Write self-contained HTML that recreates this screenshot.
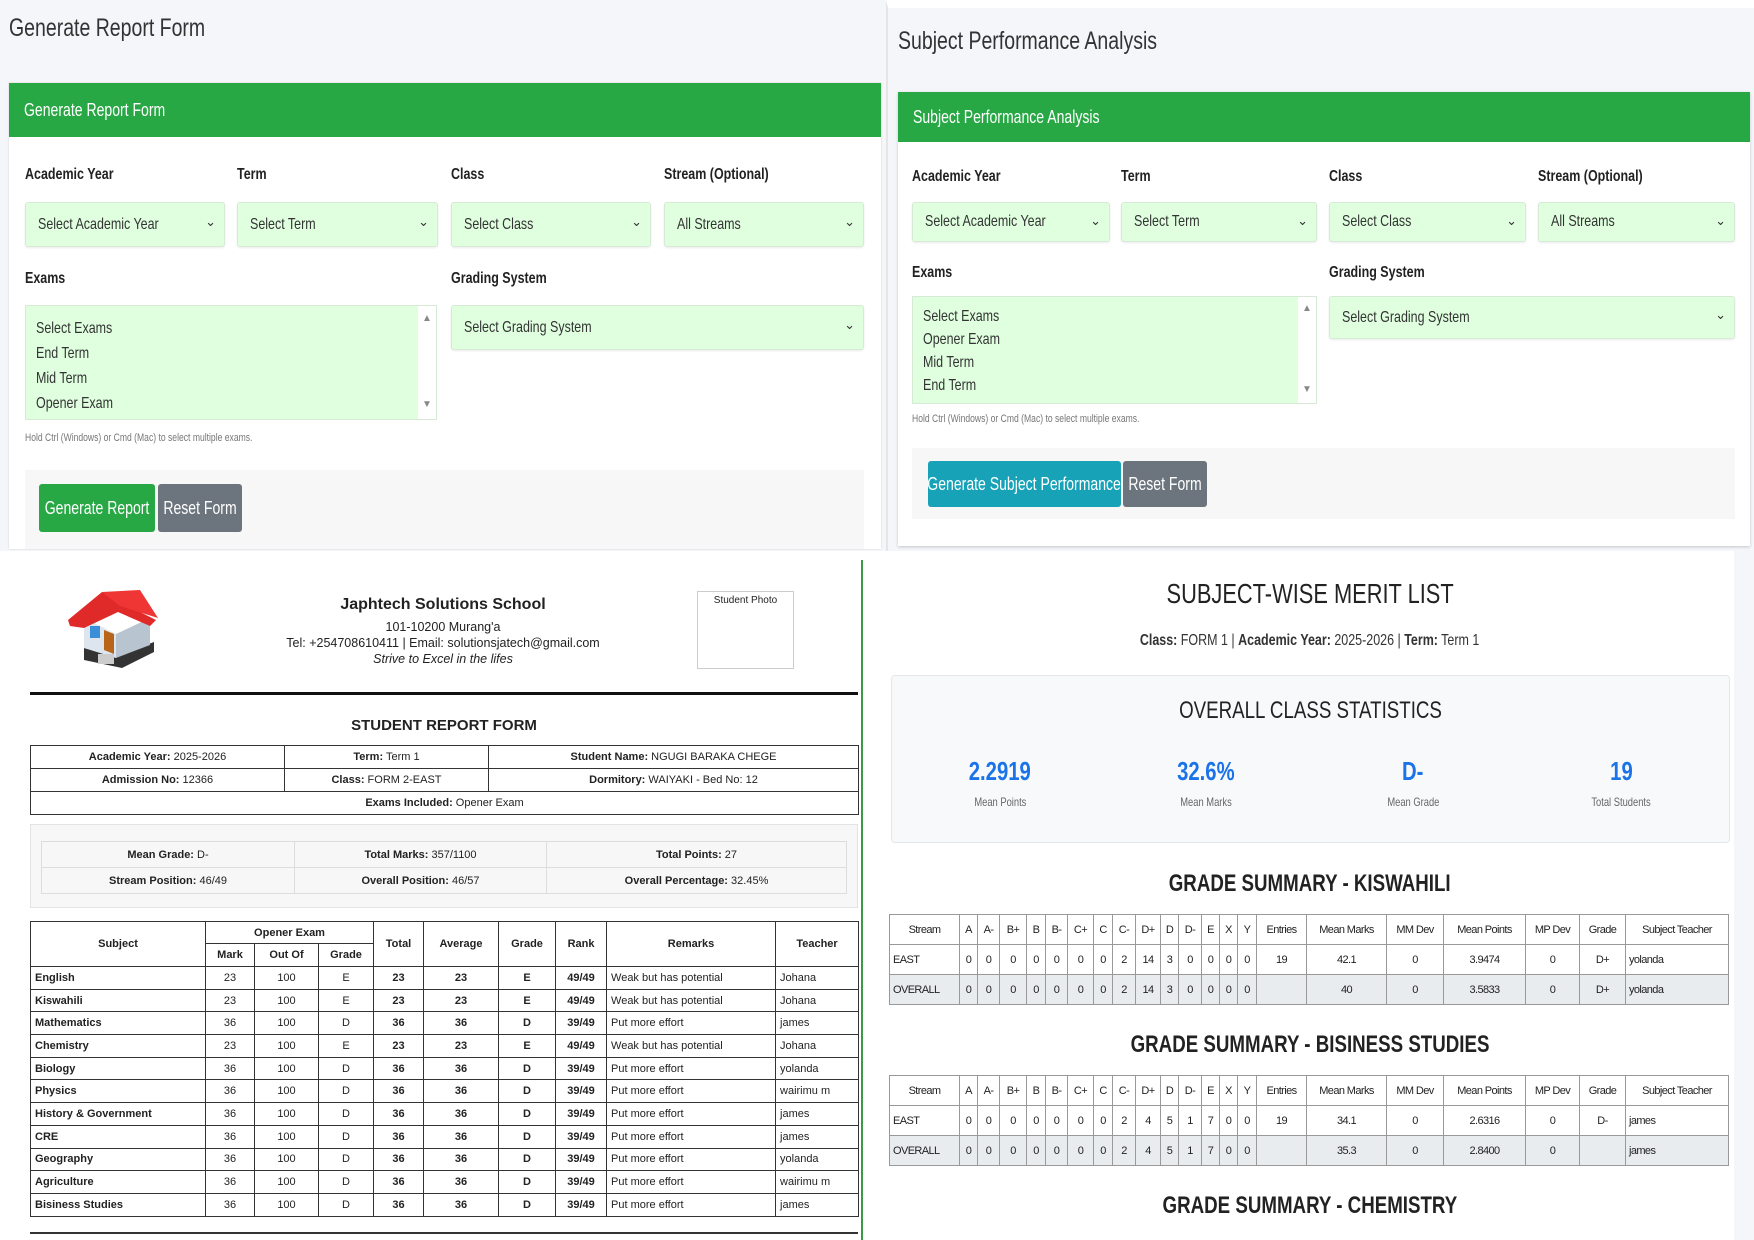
<!DOCTYPE html>
<html><head><meta charset="utf-8">
<style>
*{box-sizing:border-box;margin:0;padding:0}
body{width:1754px;height:1240px;position:relative;overflow:hidden;background:#fff;font-family:"Liberation Sans",Arial,sans-serif;color:#222}
.a{position:absolute}
.c{display:inline-block;transform:scaleX(.78);transform-origin:left center;white-space:nowrap}
.cc{display:inline-block;transform:scaleX(.78);transform-origin:center center;white-space:nowrap}
.lbl{font-weight:bold;font-size:16px;color:#222}
.sel{background:#dfffdf;border:1px solid #d6ead6;border-radius:3px;font-size:16px;color:#333;padding-left:12px;display:flex;align-items:center;box-shadow:0 1px 2px rgba(0,0,0,.08)}
.sel:after{content:"⌄";position:absolute;right:8px;top:25%;font-size:13px;color:#333}
.ms{background:#dfffdf;border:1px solid #d6ead6;font-size:16px;color:#333;padding:10px 10px;line-height:25px}
.sb{position:absolute;right:0;top:0;bottom:0;width:18px;background:#fff;font-size:10px;color:#888;text-align:center}
.btn{color:#fff;font-size:18px;border-radius:3px;display:flex;justify-content:center;align-items:center;white-space:nowrap}
.ctr{display:flex;justify-content:center}
table{border-collapse:collapse;position:absolute;table-layout:fixed}
td,th{overflow:hidden;white-space:nowrap}
.rt td,.rt th{border:1.5px solid #333;font-size:11px;text-align:center;padding:0}
.gt td,.gt th{border:1px solid #999;font-size:11px;text-align:center;padding:0;letter-spacing:-.6px}
.gt th{font-weight:normal}
.gt tr.ov td{background:#e9ecef}
</style></head><body>

<!-- TOP LEFT -->
<div class="a" style="left:0;top:0;width:886px;height:551px;background:#f4f6f9"></div>
<div class="a" style="left:9px;top:14px;font-size:25px;color:#333"><span class="c">Generate Report Form</span></div>
<div class="a" style="left:9px;top:83px;width:872px;height:466px;background:#fff;box-shadow:0 0 2px rgba(0,0,0,.15)"></div>
<div class="a" style="left:9px;top:83px;width:872px;height:54px;background:#28a745;color:#fff;font-size:18px;padding:17px 0 0 15px"><span class="c">Generate Report Form</span></div>
<div class="a lbl" style="left:25px;top:166px"><span class="c">Academic Year</span></div>
<div class="a lbl" style="left:237px;top:166px"><span class="c">Term</span></div>
<div class="a lbl" style="left:451px;top:166px"><span class="c">Class</span></div>
<div class="a lbl" style="left:664px;top:166px"><span class="c">Stream (Optional)</span></div>
<div class="a sel" style="left:25px;top:202px;width:200px;height:45px"><span class="c">Select Academic Year</span></div>
<div class="a sel" style="left:237px;top:202px;width:201px;height:45px"><span class="c">Select Term</span></div>
<div class="a sel" style="left:451px;top:202px;width:200px;height:45px"><span class="c">Select Class</span></div>
<div class="a sel" style="left:664px;top:202px;width:200px;height:45px"><span class="c">All Streams</span></div>
<div class="a lbl" style="left:25px;top:270px"><span class="c">Exams</span></div>
<div class="a lbl" style="left:451px;top:270px"><span class="c">Grading System</span></div>
<div class="a ms" style="left:25px;top:305px;width:412px;height:115px"><span class="c">Select Exams</span><br><span class="c">End Term</span><br><span class="c">Mid Term</span><br><span class="c">Opener Exam</span><div class="sb">▲<div style="position:absolute;bottom:2px;width:100%">▼</div></div></div>
<div class="a sel" style="left:451px;top:305px;width:413px;height:45px"><span class="c">Select Grading System</span></div>
<div class="a" style="left:25px;top:432px;font-size:11px;color:#777"><span class="c">Hold Ctrl (Windows) or Cmd (Mac) to select multiple exams.</span></div>
<div class="a" style="left:25px;top:470px;width:839px;height:79px;background:#f7f7f7"></div>
<div class="a btn" style="left:39px;top:484px;width:116px;height:48px;background:#28a745"><span class="cc">Generate Report</span></div>
<div class="a btn" style="left:158px;top:484px;width:84px;height:48px;background:#6c757d"><span class="cc">Reset Form</span></div>

<!-- TOP RIGHT -->
<div class="a" style="left:886px;top:0;width:868px;height:551px;background:#f4f6f9;border-top:8px solid #fff;border-left:2px solid #e5e5e5"></div>
<div class="a" style="left:898px;top:27px;font-size:25px;color:#333"><span class="c">Subject Performance Analysis</span></div>
<div class="a" style="left:898px;top:92px;width:852px;height:454px;background:#fff;box-shadow:0 1px 3px rgba(0,0,0,.2)"></div>
<div class="a" style="left:898px;top:92px;width:852px;height:50px;background:#28a745;color:#fff;font-size:18px;padding:15px 0 0 15px"><span class="c">Subject Performance Analysis</span></div>
<div class="a lbl" style="left:912px;top:168px"><span class="c">Academic Year</span></div>
<div class="a lbl" style="left:1121px;top:168px"><span class="c">Term</span></div>
<div class="a lbl" style="left:1329px;top:168px"><span class="c">Class</span></div>
<div class="a lbl" style="left:1538px;top:168px"><span class="c">Stream (Optional)</span></div>
<div class="a sel" style="left:912px;top:202px;width:198px;height:40px"><span class="c">Select Academic Year</span></div>
<div class="a sel" style="left:1121px;top:202px;width:196px;height:40px"><span class="c">Select Term</span></div>
<div class="a sel" style="left:1329px;top:202px;width:197px;height:40px"><span class="c">Select Class</span></div>
<div class="a sel" style="left:1538px;top:202px;width:197px;height:40px"><span class="c">All Streams</span></div>
<div class="a lbl" style="left:912px;top:264px"><span class="c">Exams</span></div>
<div class="a lbl" style="left:1329px;top:264px"><span class="c">Grading System</span></div>
<div class="a ms" style="left:912px;top:296px;width:405px;height:108px;padding-top:8px;line-height:23px"><span class="c">Select Exams</span><br><span class="c">Opener Exam</span><br><span class="c">Mid Term</span><br><span class="c">End Term</span><div class="sb">▲<div style="position:absolute;bottom:2px;width:100%">▼</div></div></div>
<div class="a sel" style="left:1329px;top:296px;width:406px;height:43px"><span class="c">Select Grading System</span></div>
<div class="a" style="left:912px;top:413px;font-size:11px;color:#777"><span class="c">Hold Ctrl (Windows) or Cmd (Mac) to select multiple exams.</span></div>
<div class="a" style="left:912px;top:448px;width:823px;height:71px;background:#f7f7f7"></div>
<div class="a btn" style="left:928px;top:461px;width:193px;height:46px;background:#17a2b8"><span class="cc">Generate Subject Performance</span></div>
<div class="a btn" style="left:1123px;top:461px;width:84px;height:46px;background:#6c757d"><span class="cc">Reset Form</span></div>

<!-- BOTTOM LEFT -->
<div class="a" style="left:861px;top:560px;width:2px;height:680px;background:#3a9a4a"></div>
<svg class="a" style="left:66px;top:590px" width="92" height="78" viewBox="0 0 92 78">
<polygon points="18,70 56,78 88,62 88,52 50,66 18,58" fill="#333"/>
<polygon points="18,28 50,44 50,68 18,58" fill="#dde6ef"/>
<polygon points="50,44 84,28 84,55 50,68" fill="#b8c4cf"/>
<rect x="24" y="36" width="10" height="12" fill="#3a8fd8"/>
<polygon points="38,40 48,44 48,64 38,60" fill="#b8651a"/>
<polygon points="2,30 36,2 54,12 90,30 84,36 52,22 18,38 4,36" fill="#e02a2a"/>
<polygon points="36,2 74,0 92,28 54,16" fill="#f03535"/>
<rect x="32" y="64" width="16" height="10" fill="#ccc"/>
</svg>
<div class="a" style="left:243px;top:596px;width:400px;text-align:center;font-weight:bold;font-size:16px">Japhtech Solutions School</div>
<div class="a" style="left:243px;top:620px;width:400px;text-align:center;font-size:12.5px">101-10200 Murang'a</div>
<div class="a" style="left:213px;top:636px;width:460px;text-align:center;font-size:12.5px">Tel: +254708610411 | Email: solutionsjatech@gmail.com</div>
<div class="a" style="left:243px;top:652px;width:400px;text-align:center;font-size:12.5px;font-style:italic">Strive to Excel in the lifes</div>
<div class="a" style="left:697px;top:591px;width:97px;height:78px;border:1.5px solid #ccc;font-size:10px;text-align:center;padding-top:3px">Student Photo</div>
<div class="a" style="left:30px;top:692px;width:828px;height:3px;background:#111"></div>
<div class="a" style="left:30px;top:717px;width:828px;text-align:center;font-weight:bold;font-size:15px">STUDENT REPORT FORM</div>
<table class="rt" style="left:30px;top:745px;width:828px">
<colgroup><col style="width:254px"><col style="width:204px"><col style="width:370px"></colgroup>
<tr style="height:23px"><td><b>Academic Year:</b> 2025-2026</td><td><b>Term:</b> Term 1</td><td><b>Student Name:</b> NGUGI BARAKA CHEGE</td></tr>
<tr style="height:23px"><td><b>Admission No:</b> 12366</td><td><b>Class:</b> FORM 2-EAST</td><td><b>Dormitory:</b> WAIYAKI - Bed No: 12</td></tr>
<tr style="height:23px"><td colspan="3"><b>Exams Included:</b> Opener Exam</td></tr>
</table>
<div class="a" style="left:30px;top:824px;width:828px;height:84px;background:#f7f7f7;border:1px solid #e3e3e3"></div>
<table class="rt" style="left:41px;top:841px;width:805px">
<colgroup><col style="width:253px"><col style="width:252px"><col style="width:300px"></colgroup>
<tr style="height:26px"><td style="border:1px solid #ddd"><b>Mean Grade:</b> D-</td><td style="border:1px solid #ddd"><b>Total Marks:</b> 357/1100</td><td style="border:1px solid #ddd"><b>Total Points:</b> 27</td></tr>
<tr style="height:26px"><td style="border:1px solid #ddd"><b>Stream Position:</b> 46/49</td><td style="border:1px solid #ddd"><b>Overall Position:</b> 46/57</td><td style="border:1px solid #ddd"><b>Overall Percentage:</b> 32.45%</td></tr>
</table>
<table class="rt" style="left:30px;top:921px;width:828px">
<colgroup><col style="width:175px"><col style="width:49px"><col style="width:64px"><col style="width:55px"><col style="width:50px"><col style="width:75px"><col style="width:57px"><col style="width:51px"><col style="width:169px"><col style="width:83px"></colgroup>
<tr style="height:22px"><th rowspan="2">Subject</th><th colspan="3">Opener Exam</th><th rowspan="2">Total</th><th rowspan="2">Average</th><th rowspan="2">Grade</th><th rowspan="2">Rank</th><th rowspan="2">Remarks</th><th rowspan="2">Teacher</th></tr>
<tr style="height:23px"><th>Mark</th><th>Out Of</th><th>Grade</th></tr>
<tr style="height:22.7px"><td style="text-align:left;padding-left:4px"><b>English</b></td><td>23</td><td>100</td><td>E</td><td><b>23</b></td><td><b>23</b></td><td><b>E</b></td><td><b>49/49</b></td><td style="text-align:left;padding-left:4px">Weak but has potential</td><td style="text-align:left;padding-left:4px">Johana</td></tr>
<tr style="height:22.7px"><td style="text-align:left;padding-left:4px"><b>Kiswahili</b></td><td>23</td><td>100</td><td>E</td><td><b>23</b></td><td><b>23</b></td><td><b>E</b></td><td><b>49/49</b></td><td style="text-align:left;padding-left:4px">Weak but has potential</td><td style="text-align:left;padding-left:4px">Johana</td></tr>
<tr style="height:22.7px"><td style="text-align:left;padding-left:4px"><b>Mathematics</b></td><td>36</td><td>100</td><td>D</td><td><b>36</b></td><td><b>36</b></td><td><b>D</b></td><td><b>39/49</b></td><td style="text-align:left;padding-left:4px">Put more effort</td><td style="text-align:left;padding-left:4px">james</td></tr>
<tr style="height:22.7px"><td style="text-align:left;padding-left:4px"><b>Chemistry</b></td><td>23</td><td>100</td><td>E</td><td><b>23</b></td><td><b>23</b></td><td><b>E</b></td><td><b>49/49</b></td><td style="text-align:left;padding-left:4px">Weak but has potential</td><td style="text-align:left;padding-left:4px">Johana</td></tr>
<tr style="height:22.7px"><td style="text-align:left;padding-left:4px"><b>Biology</b></td><td>36</td><td>100</td><td>D</td><td><b>36</b></td><td><b>36</b></td><td><b>D</b></td><td><b>39/49</b></td><td style="text-align:left;padding-left:4px">Put more effort</td><td style="text-align:left;padding-left:4px">yolanda</td></tr>
<tr style="height:22.7px"><td style="text-align:left;padding-left:4px"><b>Physics</b></td><td>36</td><td>100</td><td>D</td><td><b>36</b></td><td><b>36</b></td><td><b>D</b></td><td><b>39/49</b></td><td style="text-align:left;padding-left:4px">Put more effort</td><td style="text-align:left;padding-left:4px">wairimu m</td></tr>
<tr style="height:22.7px"><td style="text-align:left;padding-left:4px"><b>History &amp; Government</b></td><td>36</td><td>100</td><td>D</td><td><b>36</b></td><td><b>36</b></td><td><b>D</b></td><td><b>39/49</b></td><td style="text-align:left;padding-left:4px">Put more effort</td><td style="text-align:left;padding-left:4px">james</td></tr>
<tr style="height:22.7px"><td style="text-align:left;padding-left:4px"><b>CRE</b></td><td>36</td><td>100</td><td>D</td><td><b>36</b></td><td><b>36</b></td><td><b>D</b></td><td><b>39/49</b></td><td style="text-align:left;padding-left:4px">Put more effort</td><td style="text-align:left;padding-left:4px">james</td></tr>
<tr style="height:22.7px"><td style="text-align:left;padding-left:4px"><b>Geography</b></td><td>36</td><td>100</td><td>D</td><td><b>36</b></td><td><b>36</b></td><td><b>D</b></td><td><b>39/49</b></td><td style="text-align:left;padding-left:4px">Put more effort</td><td style="text-align:left;padding-left:4px">yolanda</td></tr>
<tr style="height:22.7px"><td style="text-align:left;padding-left:4px"><b>Agriculture</b></td><td>36</td><td>100</td><td>D</td><td><b>36</b></td><td><b>36</b></td><td><b>D</b></td><td><b>39/49</b></td><td style="text-align:left;padding-left:4px">Put more effort</td><td style="text-align:left;padding-left:4px">wairimu m</td></tr>
<tr style="height:22.7px"><td style="text-align:left;padding-left:4px"><b>Bisiness Studies</b></td><td>36</td><td>100</td><td>D</td><td><b>36</b></td><td><b>36</b></td><td><b>D</b></td><td><b>39/49</b></td><td style="text-align:left;padding-left:4px">Put more effort</td><td style="text-align:left;padding-left:4px">james</td></tr>
</table>
<div class="a" style="left:30px;top:1232px;width:828px;height:2px;background:#333"></div>

<!-- BOTTOM RIGHT -->
<div class="a" style="left:1734px;top:551px;width:20px;height:689px;background:#f4f6f9"></div>
<div class="a" style="left:880px;top:578px;width:860px;text-align:center;font-size:28px;color:#222"><span class="cc">SUBJECT-WISE MERIT LIST</span></div>
<div class="a" style="left:880px;top:632px;width:860px;text-align:center;font-size:16px;color:#333"><span class="cc"><b>Class:</b> FORM 1 | <b>Academic Year:</b> 2025-2026 | <b>Term:</b> Term 1</span></div>
<div class="a" style="left:891px;top:675px;width:839px;height:168px;background:#f8f9fa;border:1px solid #e3e6ea;border-radius:4px"></div>
<div class="a" style="left:891px;top:697px;width:839px;text-align:center;font-size:24px;color:#222"><span class="cc">OVERALL CLASS STATISTICS</span></div>
<div class="a" style="left:940px;top:756px;width:120px;text-align:center;font-size:26px;font-weight:bold;color:#1a73e8"><span class="cc">2.2919</span></div>
<div class="a" style="left:1146px;top:756px;width:120px;text-align:center;font-size:26px;font-weight:bold;color:#1a73e8"><span class="cc">32.6%</span></div>
<div class="a" style="left:1353px;top:756px;width:120px;text-align:center;font-size:26px;font-weight:bold;color:#1a73e8"><span class="cc">D-</span></div>
<div class="a" style="left:1561px;top:756px;width:120px;text-align:center;font-size:26px;font-weight:bold;color:#1a73e8"><span class="cc">19</span></div>
<div class="a" style="left:940px;top:795px;width:120px;text-align:center;font-size:12px;color:#666"><span class="cc">Mean Points</span></div>
<div class="a" style="left:1146px;top:795px;width:120px;text-align:center;font-size:12px;color:#666"><span class="cc">Mean Marks</span></div>
<div class="a" style="left:1353px;top:795px;width:120px;text-align:center;font-size:12px;color:#666"><span class="cc">Mean Grade</span></div>
<div class="a" style="left:1561px;top:795px;width:120px;text-align:center;font-size:12px;color:#666"><span class="cc">Total Students</span></div>

<div class="a" style="left:880px;top:870px;width:860px;text-align:center;font-size:24px;font-weight:bold;color:#222"><span class="cc">GRADE SUMMARY - KISWAHILI</span></div>
<table class="gt" style="left:889px;top:914px;width:839px">
<colgroup><col style="width:70px"><col style="width:18px"><col style="width:22px"><col style="width:27px"><col style="width:19px"><col style="width:22px"><col style="width:26px"><col style="width:19px"><col style="width:23px"><col style="width:25px"><col style="width:18px"><col style="width:23px"><col style="width:18px"><col style="width:18px"><col style="width:19px"><col style="width:50px"><col style="width:80px"><col style="width:57px"><col style="width:82px"><col style="width:54px"><col style="width:46px"><col style="width:103px"></colgroup>
<tr style="height:30px"><th>Stream</th><th>A</th><th>A-</th><th>B+</th><th>B</th><th>B-</th><th>C+</th><th>C</th><th>C-</th><th>D+</th><th>D</th><th>D-</th><th>E</th><th>X</th><th>Y</th><th>Entries</th><th>Mean Marks</th><th>MM Dev</th><th>Mean Points</th><th>MP Dev</th><th>Grade</th><th>Subject Teacher</th></tr>
<tr style="height:30px"><td style="text-align:left;padding-left:3px">EAST</td><td>0</td><td>0</td><td>0</td><td>0</td><td>0</td><td>0</td><td>0</td><td>2</td><td>14</td><td>3</td><td>0</td><td>0</td><td>0</td><td>0</td><td>19</td><td>42.1</td><td>0</td><td>3.9474</td><td>0</td><td>D+</td><td style="text-align:left;padding-left:3px">yolanda</td></tr>
<tr class="ov" style="height:30px"><td style="text-align:left;padding-left:3px">OVERALL</td><td>0</td><td>0</td><td>0</td><td>0</td><td>0</td><td>0</td><td>0</td><td>2</td><td>14</td><td>3</td><td>0</td><td>0</td><td>0</td><td>0</td><td></td><td>40</td><td>0</td><td>3.5833</td><td>0</td><td>D+</td><td style="text-align:left;padding-left:3px">yolanda</td></tr>
</table>
<div class="a" style="left:880px;top:1031px;width:860px;text-align:center;font-size:24px;font-weight:bold;color:#222"><span class="cc">GRADE SUMMARY - BISINESS STUDIES</span></div>
<table class="gt" style="left:889px;top:1075px;width:839px">
<colgroup><col style="width:70px"><col style="width:18px"><col style="width:22px"><col style="width:27px"><col style="width:19px"><col style="width:22px"><col style="width:26px"><col style="width:19px"><col style="width:23px"><col style="width:25px"><col style="width:18px"><col style="width:23px"><col style="width:18px"><col style="width:18px"><col style="width:19px"><col style="width:50px"><col style="width:80px"><col style="width:57px"><col style="width:82px"><col style="width:54px"><col style="width:46px"><col style="width:103px"></colgroup>
<tr style="height:30px"><th>Stream</th><th>A</th><th>A-</th><th>B+</th><th>B</th><th>B-</th><th>C+</th><th>C</th><th>C-</th><th>D+</th><th>D</th><th>D-</th><th>E</th><th>X</th><th>Y</th><th>Entries</th><th>Mean Marks</th><th>MM Dev</th><th>Mean Points</th><th>MP Dev</th><th>Grade</th><th>Subject Teacher</th></tr>
<tr style="height:30px"><td style="text-align:left;padding-left:3px">EAST</td><td>0</td><td>0</td><td>0</td><td>0</td><td>0</td><td>0</td><td>0</td><td>2</td><td>4</td><td>5</td><td>1</td><td>7</td><td>0</td><td>0</td><td>19</td><td>34.1</td><td>0</td><td>2.6316</td><td>0</td><td>D-</td><td style="text-align:left;padding-left:3px">james</td></tr>
<tr class="ov" style="height:30px"><td style="text-align:left;padding-left:3px">OVERALL</td><td>0</td><td>0</td><td>0</td><td>0</td><td>0</td><td>0</td><td>0</td><td>2</td><td>4</td><td>5</td><td>1</td><td>7</td><td>0</td><td>0</td><td></td><td>35.3</td><td>0</td><td>2.8400</td><td>0</td><td></td><td style="text-align:left;padding-left:3px">james</td></tr>
</table>
<div class="a" style="left:880px;top:1192px;width:860px;text-align:center;font-size:24px;font-weight:bold;color:#222"><span class="cc">GRADE SUMMARY - CHEMISTRY</span></div>
</body></html>
